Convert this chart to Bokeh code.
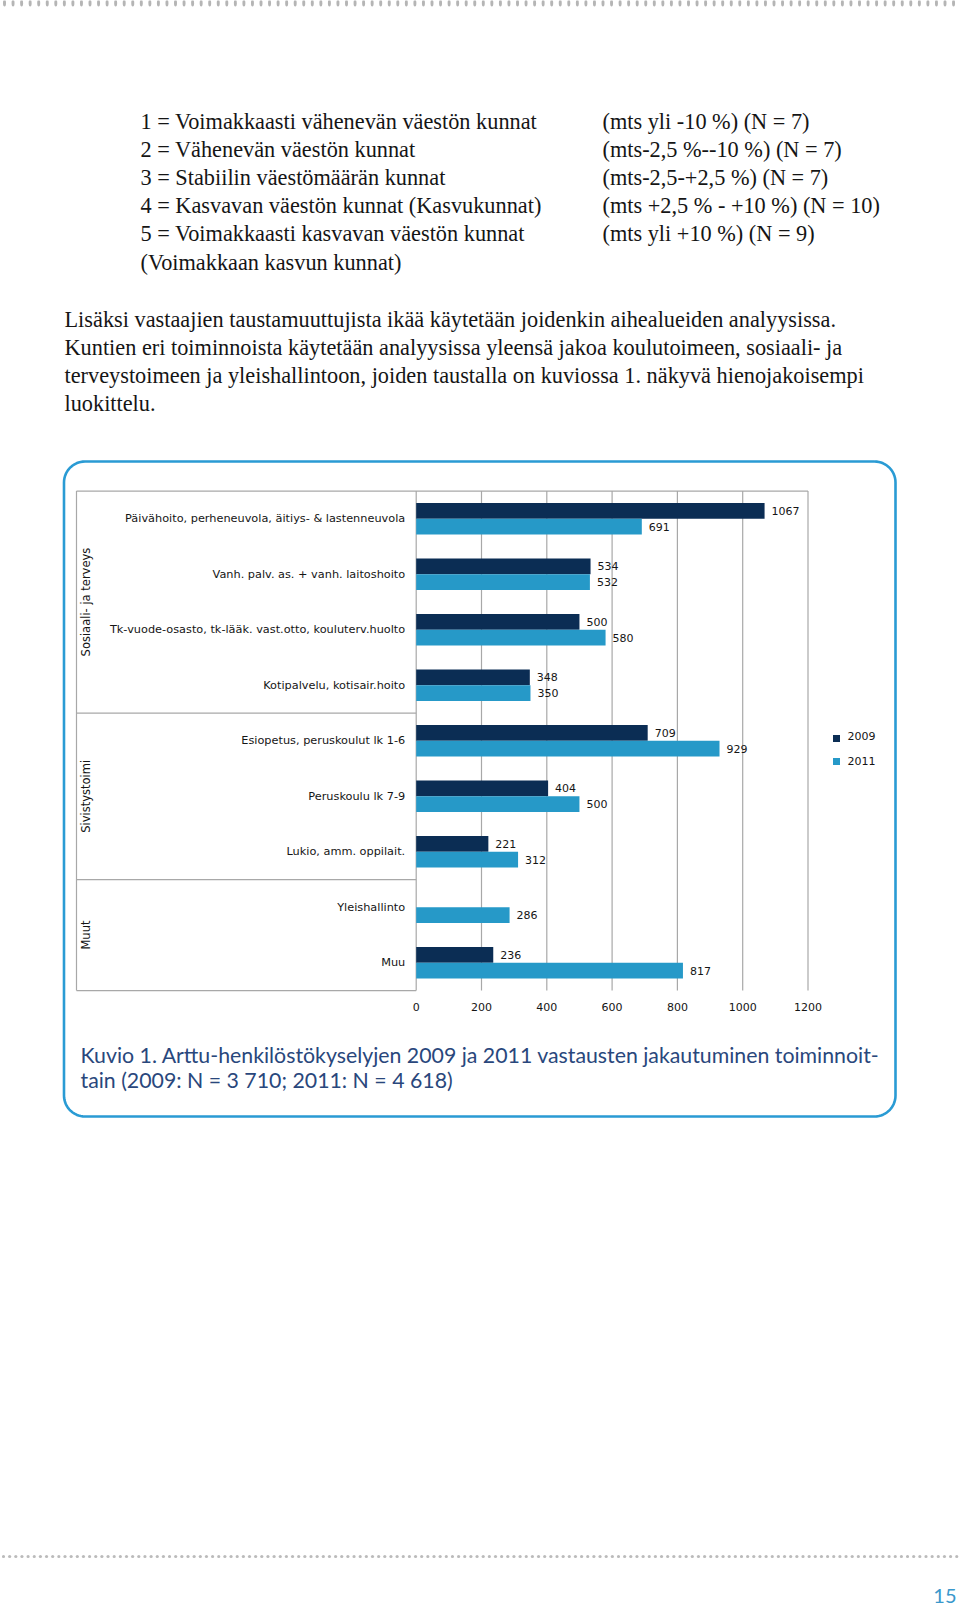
import numpy as np
from bokeh.plotting import figure
from bokeh.models import Range1d, ColumnDataSource
from bokeh.core.properties import value
from bokeh.embed import file_html
from bokeh.resources import INLINE

# ---------------- data ----------------
groups = ["Sosiaali- ja terveys", "Sivistystoimi", "Muut"]
categories = [
    "Päivähoito, perheneuvola, äitiys- & lastenneuvola",
    "Vanh. palv. as. + vanh. laitoshoito",
    "Tk-vuode-osasto, tk-lääk. vast.otto, kouluterv.huolto",
    "Kotipalvelu, kotisair.hoito",
    "Esiopetus, peruskoulut lk 1-6",
    "Peruskoulu lk 7-9",
    "Lukio, amm. oppilait.",
    "Yleishallinto",
    "Muu",
]
category_group = [0, 0, 0, 0, 1, 1, 1, 2, 2]
values_2009 = [1067, 534, 500, 348, 709, 404, 221, None, 236]
values_2011 = [691, 532, 580, 350, 929, 500, 312, 286, 817]
series = ["2009", "2011"]
x_ticks = [0, 200, 400, 600, 800, 1000, 1200]

legend_rows = [
    ("1 = Voimakkaasti vähenevän väestön kunnat", "(mts yli -10 %) (N = 7)"),
    ("2 = Vähenevän väestön kunnat", "(mts-2,5 %--10 %) (N = 7)"),
    ("3 = Stabiilin väestömäärän kunnat", "(mts-2,5-+2,5 %) (N = 7)"),
    ("4 = Kasvavan väestön kunnat (Kasvukunnat)", "(mts +2,5 % - +10 %) (N = 10)"),
    ("5 = Voimakkaasti kasvavan väestön kunnat", "(mts yli +10 %) (N = 9)"),
    ("(Voimakkaan kasvun kunnat)", ""),
]
paragraph = [
    "Lisäksi vastaajien taustamuuttujista ikää käytetään joidenkin aihealueiden analyysissa.",
    "Kuntien eri toiminnoista käytetään analyysissa yleensä jakoa koulutoimeen, sosiaali- ja",
    "terveystoimeen ja yleishallintoon, joiden taustalla on kuviossa 1. näkyvä hienojakoisempi",
    "luokittelu.",
]
caption = [
    "Kuvio 1. Arttu-henkilöstökyselyjen 2009 ja 2011 vastausten jakautuminen toiminnoit-",
    "tain (2009: N = 3 710; 2011: N = 4 618)",
]
page_number = "15"

# ---------------- layout / style ----------------
W, H = 960, 1609
OFF = 0
ZERO_X = 415.7            # page x of value 0
PPU = 65.3 / 200.0        # px per unit
ROW0_Y = 518.3            # page y of first category centre
ROW_H = 55.5              # px per category
BAR_H = 15.7 / ROW_H
FRAME_L = 76.0
C09 = "#0B2D54"
C11 = "#2699C8"
GRID = "#A8A8A8"
BOX = "#2A9BD4"
TXT = "#151515"
SERIF = value("Liberation Serif")
SANS = value("DejaVu Sans")
SERIF_SIZE = "22.3px"

p = figure(width=W, height=H, output_backend="svg", toolbar_location=None,
           x_range=Range1d(OFF, OFF + W), y_range=Range1d(OFF + H, OFF),
           x_axis_type=None, y_axis_type=None, min_border=0)
p.outline_line_color = None
p.grid.visible = False
p.background_fill_color = "white"
p.border_fill_color = "white"

val_range = Range1d((OFF - ZERO_X) / PPU, (OFF + W - ZERO_X) / PPU)
cat_range = Range1d((OFF + H - ROW0_Y) / ROW_H, (OFF - ROW0_Y) / ROW_H)
p.extra_x_ranges = {"val": val_range}
p.extra_y_ranges = {"cat": cat_range}

def page_to_val(px):
    return (px - ZERO_X) / PPU

# ---------------- page decorations ----------------
top_dx = np.arange(4, 960, 8.55)
p.ellipse(top_dx, np.full(len(top_dx), 2.5), width=3.0, height=7.0,
          color="#B5B5B5", line_color=None)
dots_x = np.arange(3, 960, 6.15)
p.scatter(dots_x, np.full(len(dots_x), 1556.0), size=3.2, color="#BBBBBB", line_color=None)

for i, (a, b) in enumerate(legend_rows):
    y = 121 + i * 28.1
    p.text([140], [y], text=[a], text_font=SERIF, text_font_size=SERIF_SIZE,
           text_baseline="middle", text_color=TXT)
    if b:
        p.text([602], [y], text=[b], text_font=SERIF, text_font_size=SERIF_SIZE,
               text_baseline="middle", text_color=TXT)

for i, line in enumerate(paragraph):
    p.text([64], [319 + i * 28.0], text=[line], text_font=SERIF, text_font_size=SERIF_SIZE,
           text_baseline="middle", text_color=TXT)

# rounded box
def rounded_rect(l, r, t, b, rad, n=16):
    xs, ys = [], []
    for cx, cy, a0 in [(r - rad, t + rad, -90), (r - rad, b - rad, 0),
                       (l + rad, b - rad, 90), (l + rad, t + rad, 180)]:
        th = np.radians(np.linspace(a0, a0 + 90, n))
        xs.extend(cx + rad * np.cos(th))
        ys.extend(cy + rad * np.sin(th))
    xs.append(xs[0]); ys.append(ys[0])
    return xs, ys

bx, by = rounded_rect(63.5, 895.0, 461.0, 1116.0, 21)
p.line(bx, by, line_width=2.6, line_color=BOX)

# ---------------- chart ----------------
n = len(categories)
top_y = ROW0_Y - 0.5 * ROW_H
bot_y = ROW0_Y + (n - 0.5) * ROW_H
right_x = ZERO_X + max(x_ticks) * PPU

# frame lines (page coords)
p.segment(x0=[FRAME_L, FRAME_L, FRAME_L], y0=[top_y, top_y, bot_y],
          x1=[right_x, FRAME_L, ZERO_X], y1=[top_y, bot_y, bot_y],
          line_color=GRID, line_width=1.2)

# vertical gridlines
p.segment(x0=x_ticks, y0=[-0.5] * len(x_ticks), x1=x_ticks, y1=[n - 0.5] * len(x_ticks),
          line_color=GRID, line_width=1.2, x_range_name="val", y_range_name="cat")

# group separators
seps = [i + 0.5 for i in range(n - 1) if category_group[i] != category_group[i + 1]]
p.segment(x0=[page_to_val(FRAME_L)] * len(seps), y0=seps, x1=[0] * len(seps), y1=seps,
          line_color=GRID, line_width=1.2, x_range_name="val", y_range_name="cat")

pos = list(range(n))
s09 = ColumnDataSource(dict(
    y=[i - BAR_H / 2 for i, v in zip(pos, values_2009) if v is not None],
    v=[v for v in values_2009 if v is not None],
    t=[str(v) for v in values_2009 if v is not None]))
s11 = ColumnDataSource(dict(
    y=[i + BAR_H / 2 for i, v in zip(pos, values_2011) if v is not None],
    v=[v for v in values_2011 if v is not None],
    t=[str(v) for v in values_2011 if v is not None]))

for src, col in [(s09, C09), (s11, C11)]:
    p.hbar(y="y", left=0, right="v", height=BAR_H, source=src, fill_color=col,
           line_color=None, x_range_name="val", y_range_name="cat")
    p.text(x="v", y="y", text="t", source=src, x_offset=7, text_baseline="middle",
           text_align="left", text_font=SANS, text_font_size="11px", text_color=TXT,
           x_range_name="val", y_range_name="cat")

# category labels
p.text(x=[0] * n, y=pos, text=categories, x_offset=-11, text_align="right",
       text_baseline="middle", text_font=SANS, text_font_size="11.3px", text_color=TXT,
       x_range_name="val", y_range_name="cat")

# group labels (rotated)
g_pos = []
for g in range(len(groups)):
    idx = [i for i in pos if category_group[i] == g]
    g_pos.append((min(idx) + max(idx)) / 2.0)
p.text(x=[page_to_val(85)] * len(groups), y=g_pos, text=groups, angle=np.pi / 2,
       text_align="center", text_baseline="middle", text_font=SANS,
       text_font_size="11.5px", text_color=TXT, x_range_name="val", y_range_name="cat")

# x tick labels
p.text(x=x_ticks, y=[1006] * len(x_ticks), text=[str(t) for t in x_ticks],
       text_align="center", text_baseline="middle", text_font=SANS,
       text_font_size="11px", text_color=TXT, x_range_name="val")

# legend
p.scatter([836, 836], [738, 761], marker="square", size=7, color=[C09, C11], line_color=None)
p.text([847, 847], [735, 760], text=series, text_baseline="middle", text_font=SANS,
       text_font_size="11px", text_color=TXT)

# caption
for i, line in enumerate(caption):
    p.text([80], [1054 + i * 25], text=[line], text_font=value("Lato"),
           text_font_size="21.3px", text_baseline="middle", text_color="#29477C")

# page number
p.text([956], [1595], text=[page_number], text_align="right", text_baseline="middle",
       text_font=value("Lato"), text_font_size="20px", text_color="#3A98CC")

open("out.html", "w").write(file_html(p, INLINE))
